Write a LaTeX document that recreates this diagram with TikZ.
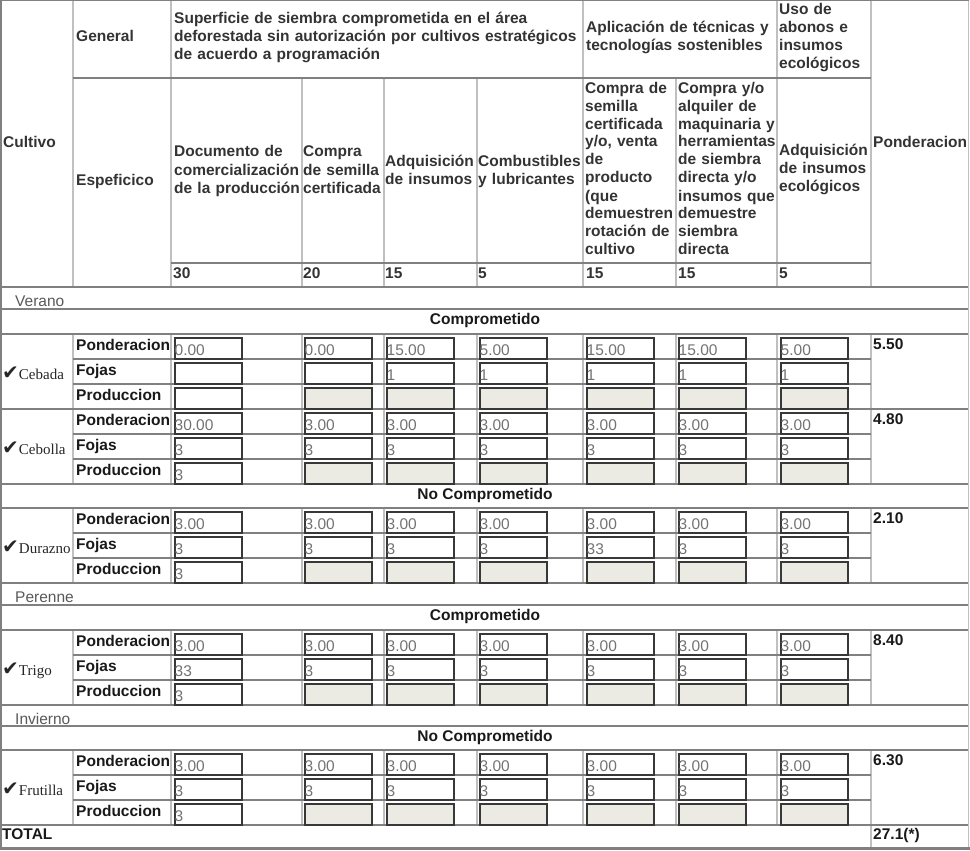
\documentclass[tikz,border=0pt]{standalone}
\usepackage{fontspec}
\setmainfont{Liberation Sans}
\newfontfamily\cropfont{Liberation Serif}
\newfontfamily\checkfont{DejaVu Sans}
\definecolor{offgray}{RGB}{235,235,228}
\definecolor{rulelight}{RGB}{192,192,192}
\definecolor{ruledark}{RGB}{128,128,128}

\begin{document}
\begin{tikzpicture}[%
          x=1pt, y=-1pt,
          hd/.style={font=\fontsize{15.5}{18}\selectfont\bfseries, text=black!80,
            inner sep=0pt, anchor=base west, align=left, text width=450pt},
          lbl/.style={font=\fontsize{15.5}{18}\selectfont\bfseries, text=black!90,
            inner sep=0pt, anchor=base west},
          val/.style={font=\fontsize{15.5}{18}\selectfont, text=black!55,
            inner sep=0pt, anchor=base west},
          season/.style={font=\fontsize{15.5}{18}\selectfont, text=black!65,
            inner sep=0pt, anchor=base west},
          crop/.style={font=\fontsize{15}{18}\selectfont\cropfont, text=black!85,
            inner sep=0pt, anchor=base west},
          inbox/.style={draw=black!78, line width=2pt, fill=white, minimum width=67pt,
            minimum height=21pt, inner sep=0pt, anchor=north west},
          offbox/.style={inbox, fill=offgray},
          vrule/.style={draw=rulelight, line width=1.5pt},
          hrule/.style={draw=ruledark, line width=1.2pt}]

  \useasboundingbox (0,0) rectangle (970,851);

  % header rules
  \draw[vrule] (73,0) -- (73,287);
  \draw[vrule] (171,0) -- (171,287);
  \foreach \x in {302,384,477,676} \draw[vrule] (\x,78) -- (\x,287);
  \foreach \x in {583,777,871} \draw[vrule] (\x,0) -- (\x,287);
  \draw[hrule] (73,78) -- (871,78);
  \draw[hrule] (171,263) -- (871,263);

  % body rules
  \foreach \t in {334,409,508,630,750} {
    \foreach \x in {73,171,302,384,477,583,676,777,871} \draw[vrule] (\x,\t) -- (\x,\t+75);
    \draw[hrule] (73,\t+25) -- (871,\t+25);
    \draw[hrule] (73,\t+50) -- (871,\t+50);
  }
  \draw[vrule] (871,825) -- (871,848);
  \foreach \y in {287,309,334,409,484,508,583,605,630,705,726,750,825}
    \draw[hrule] (1,\y) -- (968,\y);

  % outer border
  \draw[ruledark, line width=1.5pt] (0.75,848) -- (0.75,0.75) -- (968.5,0.75);
  \draw[rulelight, line width=1.5pt] (968.5,0.75) -- (968.5,848);
  \draw[ruledark, line width=3pt] (0,848.5) -- (970,848.5);

  % header
  \node[hd] (cultivo) at (3,147) {Cultivo};
  \node[hd] (general) at (76,42) {General};
  \node[hd] (espec) at (76,185) {Espeficico};
  \node[hd] (superf) at (174,24) {Superficie de siembra comprometida en el área\\deforestada sin autorización por cultivos estratégicos\\de acuerdo a programación};
  \node[hd] (aplic) at (586,33) {Aplicación de técnicas y\\tecnologías sostenibles};
  \node[hd] (uso) at (779,15) {Uso de\\abonos e\\insumos\\ecológicos};
  \node[hd] (doc) at (174,157) {Documento de\\comercialización\\de la producción};
  \node[hd] (semilla) at (303,157) {Compra\\de semilla\\certificada};
  \node[hd] (insumos) at (385,166) {Adquisición\\de insumos};
  \node[hd] (combust) at (478,166) {Combustibles\\y lubricantes};
  \node[hd] (rotacion) at (585,93) {Compra de\\semilla\\certificada\\y/o, venta\\de\\producto\\(que\\demuestren\\rotación de\\cultivo};
  \node[hd] (maquin) at (678,93) {Compra y/o\\alquiler de\\maquinaria y\\herramientas\\de siembra\\directa y/o\\insumos que\\demuestre\\siembra\\directa};
  \node[hd] (ecolog) at (779,155) {Adquisición\\de insumos\\ecológicos};
  \node[hd] (ponder) at (873,147) {Ponderacion};
  \foreach \x/\w [count=\c] in {173/30,303/20,385/15,478/5,586/15,678/15,779/5}
    \node[lbl, text=black!80] (peso\c) at (\x,278) {\w};

  % Verano
  \node[season] (verano) at (15,306) {Verano};
  \node[lbl, anchor=base] (comp1) at (485,324) {Comprometido};

  % Cebada
  \node[crop] (cebada) at (2,379) {{\fontsize{20}{18}\selectfont\checkfont ✔}Cebada};
  \node[lbl] (ceb-l1) at (76,350) {Ponderacion};
  \node[lbl] (ceb-l2) at (76,375) {Fojas};
  \node[lbl] (ceb-l3) at (76,400) {Produccion};
  \foreach \x/\p/\f [count=\c] in {173/0.00/{},303/0.00/{},385/15.00/1,478/5.00/1,585/15.00/1,677/15.00/1,779/5.00/1} {
    \node[inbox] (ceb-p\c) at (\x+1,336.5) {};
    \node[val] (ceb-pv\c) at (\x+1.5,355) {\p};
    \node[inbox] (ceb-f\c) at (\x+1,361.5) {};
    \node[val] (ceb-fv\c) at (\x+1.5,380) {\f};
  }
  \node[inbox] (ceb-q1) at (174,386.5) {};
  \foreach \x [count=\c from 2] in {303,385,478,585,677,779}
    \node[offbox] (ceb-q\c) at (\x+1,386.5) {};
  \node[lbl] (ceb-pond) at (873,349) {5.50};

  % Cebolla
  \node[crop] (cebolla) at (2,454) {{\fontsize{20}{18}\selectfont\checkfont ✔}Cebolla};
  \node[lbl] (cbl-l1) at (76,425) {Ponderacion};
  \node[lbl] (cbl-l2) at (76,450) {Fojas};
  \node[lbl] (cbl-l3) at (76,475) {Produccion};
  \foreach \x/\p/\f [count=\c] in {173/30.00/3,303/3.00/3,385/3.00/3,478/3.00/3,585/3.00/3,677/3.00/3,779/3.00/3} {
    \node[inbox] (cbl-p\c) at (\x+1,411.5) {};
    \node[val] (cbl-pv\c) at (\x+1.5,430) {\p};
    \node[inbox] (cbl-f\c) at (\x+1,436.5) {};
    \node[val] (cbl-fv\c) at (\x+1.5,455) {\f};
  }
  \node[inbox] (cbl-q1) at (174,461.5) {};
  \node[val] (cbl-qv1) at (174.5,480) {3};
  \foreach \x [count=\c from 2] in {303,385,478,585,677,779}
    \node[offbox] (cbl-q\c) at (\x+1,461.5) {};
  \node[lbl] (cbl-pond) at (873,424) {4.80};

  \node[lbl, anchor=base] (nocomp1) at (485,499) {No Comprometido};

  % Durazno
  \node[crop] (durazno) at (2,553) {{\fontsize{20}{18}\selectfont\checkfont ✔}Durazno};
  \node[lbl] (dur-l1) at (76,524) {Ponderacion};
  \node[lbl] (dur-l2) at (76,549) {Fojas};
  \node[lbl] (dur-l3) at (76,574) {Produccion};
  \foreach \x/\p/\f [count=\c] in {173/3.00/3,303/3.00/3,385/3.00/3,478/3.00/3,585/3.00/33,677/3.00/3,779/3.00/3} {
    \node[inbox] (dur-p\c) at (\x+1,510.5) {};
    \node[val] (dur-pv\c) at (\x+1.5,529) {\p};
    \node[inbox] (dur-f\c) at (\x+1,535.5) {};
    \node[val] (dur-fv\c) at (\x+1.5,554) {\f};
  }
  \node[inbox] (dur-q1) at (174,560.5) {};
  \node[val] (dur-qv1) at (174.5,579) {3};
  \foreach \x [count=\c from 2] in {303,385,478,585,677,779}
    \node[offbox] (dur-q\c) at (\x+1,560.5) {};
  \node[lbl] (dur-pond) at (873,523) {2.10};

  % Perenne
  \node[season] (perenne) at (15,602) {Perenne};
  \node[lbl, anchor=base] (comp2) at (485,620) {Comprometido};

  % Trigo
  \node[crop] (trigo) at (2,675) {{\fontsize{20}{18}\selectfont\checkfont ✔}Trigo};
  \node[lbl] (trg-l1) at (76,646) {Ponderacion};
  \node[lbl] (trg-l2) at (76,671) {Fojas};
  \node[lbl] (trg-l3) at (76,696) {Produccion};
  \foreach \x/\p/\f [count=\c] in {173/3.00/33,303/3.00/3,385/3.00/3,478/3.00/3,585/3.00/3,677/3.00/3,779/3.00/3} {
    \node[inbox] (trg-p\c) at (\x+1,632.5) {};
    \node[val] (trg-pv\c) at (\x+1.5,651) {\p};
    \node[inbox] (trg-f\c) at (\x+1,657.5) {};
    \node[val] (trg-fv\c) at (\x+1.5,676) {\f};
  }
  \node[inbox] (trg-q1) at (174,682.5) {};
  \node[val] (trg-qv1) at (174.5,701) {3};
  \foreach \x [count=\c from 2] in {303,385,478,585,677,779}
    \node[offbox] (trg-q\c) at (\x+1,682.5) {};
  \node[lbl] (trg-pond) at (873,645) {8.40};

  % Invierno
  \node[season] (invierno) at (15,724) {Invierno};
  \node[lbl, anchor=base] (nocomp2) at (485,741) {No Comprometido};

  % Frutilla
  \node[crop] (frutilla) at (2,795) {{\fontsize{20}{18}\selectfont\checkfont ✔}Frutilla};
  \node[lbl] (fru-l1) at (76,766) {Ponderacion};
  \node[lbl] (fru-l2) at (76,791) {Fojas};
  \node[lbl] (fru-l3) at (76,816) {Produccion};
  \foreach \x/\p/\f [count=\c] in {173/3.00/3,303/3.00/3,385/3.00/3,478/3.00/3,585/3.00/3,677/3.00/3,779/3.00/3} {
    \node[inbox] (fru-p\c) at (\x+1,752.5) {};
    \node[val] (fru-pv\c) at (\x+1.5,771) {\p};
    \node[inbox] (fru-f\c) at (\x+1,777.5) {};
    \node[val] (fru-fv\c) at (\x+1.5,796) {\f};
  }
  \node[inbox] (fru-q1) at (174,802.5) {};
  \node[val] (fru-qv1) at (174.5,821) {3};
  \foreach \x [count=\c from 2] in {303,385,478,585,677,779}
    \node[offbox] (fru-q\c) at (\x+1,802.5) {};
  \node[lbl] (fru-pond) at (873,765) {6.30};

  % total
  \node[lbl] (total) at (2,839) {TOTAL};
  \node[lbl] (total-val) at (873,839) {27.1(*)};

\end{tikzpicture}
\end{document}
